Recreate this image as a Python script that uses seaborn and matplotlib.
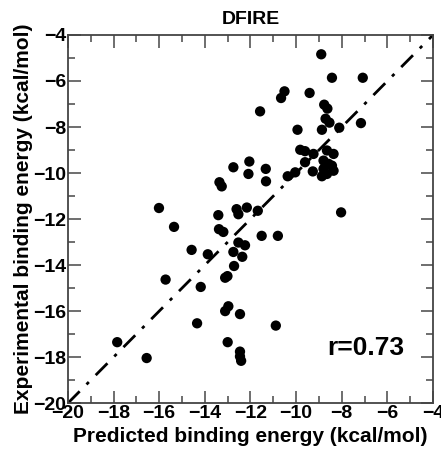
import seaborn as sns
import pandas as pd
import numpy as np
import matplotlib.pyplot as plt

# predicted vs experimental binding energies (kcal/mol)
predicted = [-8.90, -8.43, -7.08, -10.51, -10.66, -9.41, -11.58, -8.77, -8.63,
             -8.71, -8.54, -7.16, -8.11, -9.94, -8.87,
             -9.82, -9.61, -9.24, -8.65, -8.36, -8.80, -8.58, -8.43, -8.80,
             -8.36, -8.65, -9.27, -10.04, -9.61, -10.37, -8.87,
             -12.05, -11.33, -12.09, -11.32, -12.75, -13.36, -13.26,
             -13.41, -12.61, -12.53, -12.16, -11.68, -13.38, -13.19, -16.01,
             -8.03, -15.35, -11.51, -10.80, -12.53, -12.24,
             -14.58, -13.87, -12.75, -12.36, -12.72, -13.11, -13.01,
             -12.97, -13.11, -12.46, -15.72, -14.18, -14.34, -10.89,
             -13.00, -12.46, -12.46, -12.41, -17.84, -16.55]
experimental = [-4.84, -5.86, -5.86, -6.45, -6.74, -6.52, -7.32, -7.03, -7.20,
                -7.64, -7.81, -7.83, -8.03, -8.12, -8.12,
                -8.99, -9.05, -9.17, -9.02, -9.17, -9.46, -9.60, -9.68, -9.82,
                -9.90, -10.04, -9.93, -9.97, -9.53, -10.14, -10.14,
                -9.50, -9.82, -10.04, -10.36, -9.75, -10.40, -10.58,
                -11.83, -11.57, -11.79, -11.50, -11.64, -12.44, -12.56, -11.52,
                -11.71, -12.34, -12.73, -12.73, -13.02, -13.14,
                -13.34, -13.53, -13.43, -13.64, -14.04, -14.55, -14.48,
                -15.79, -16.00, -16.13, -14.63, -14.95, -16.53, -16.63,
                -17.35, -17.76, -17.97, -18.16, -17.35, -18.04]
diag = [-20, -4]
r_label = "r=0.73"

df = pd.DataFrame({"pred": predicted, "exp": experimental})

sns.set_theme(style="ticks")
plt.rcParams['font.family'] = ['Liberation Sans', 'DejaVu Sans']
plt.rcParams['font.weight'] = 'bold'
plt.rcParams['text.color'] = 'black'
plt.rcParams['axes.labelcolor'] = 'black'
plt.rcParams['xtick.labelcolor'] = 'black'
plt.rcParams['ytick.labelcolor'] = 'black'

fig = plt.figure(figsize=(4.41, 4.54), dpi=100)
ax = fig.add_axes([0.154, 0.112, 0.828, 0.811])

ax.plot(diag, diag, color='black', lw=2, dashes=(6, 3.5, 1.2, 3.5))
sns.scatterplot(data=df, x="pred", y="exp", color='black', s=55,
                edgecolor='none', ax=ax, zorder=3)

ax.set_xlim(-20, -4)
ax.set_ylim(-20, -4)
ax.set_xticks(np.arange(-20, -3, 2))
ax.set_yticks(np.arange(-20, -3, 2))
ax.set_xticks(np.arange(-20, -3, 1), minor=True)
ax.set_yticks(np.arange(-20, -3, 1), minor=True)
ax.tick_params(which='both', direction='in', top=True, right=True,
               color='#555555', width=1.2, labelsize=14, pad=1)
ax.tick_params(which='major', length=9)
ax.tick_params(which='minor', length=5)
for lab in ax.get_xticklabels() + ax.get_yticklabels():
    lab.set_fontweight('bold')
for sp in ax.spines.values():
    sp.set_color('#444444')
    sp.set_linewidth(1.3)

ax.set_xlabel("Predicted binding energy (kcal/mol)", fontsize=15,
              fontweight='bold', labelpad=4)
ax.set_ylabel("Experimental binding energy (kcal/mol)", fontsize=15,
              fontweight='bold', labelpad=0)
ax.set_title("DFIRE", fontsize=14, fontweight='bold', pad=8)
ax.text(-6.95, -17.6, r_label, fontsize=19, fontweight='bold',
        ha='center', va='center')

fig.savefig("out.png", dpi=100)
